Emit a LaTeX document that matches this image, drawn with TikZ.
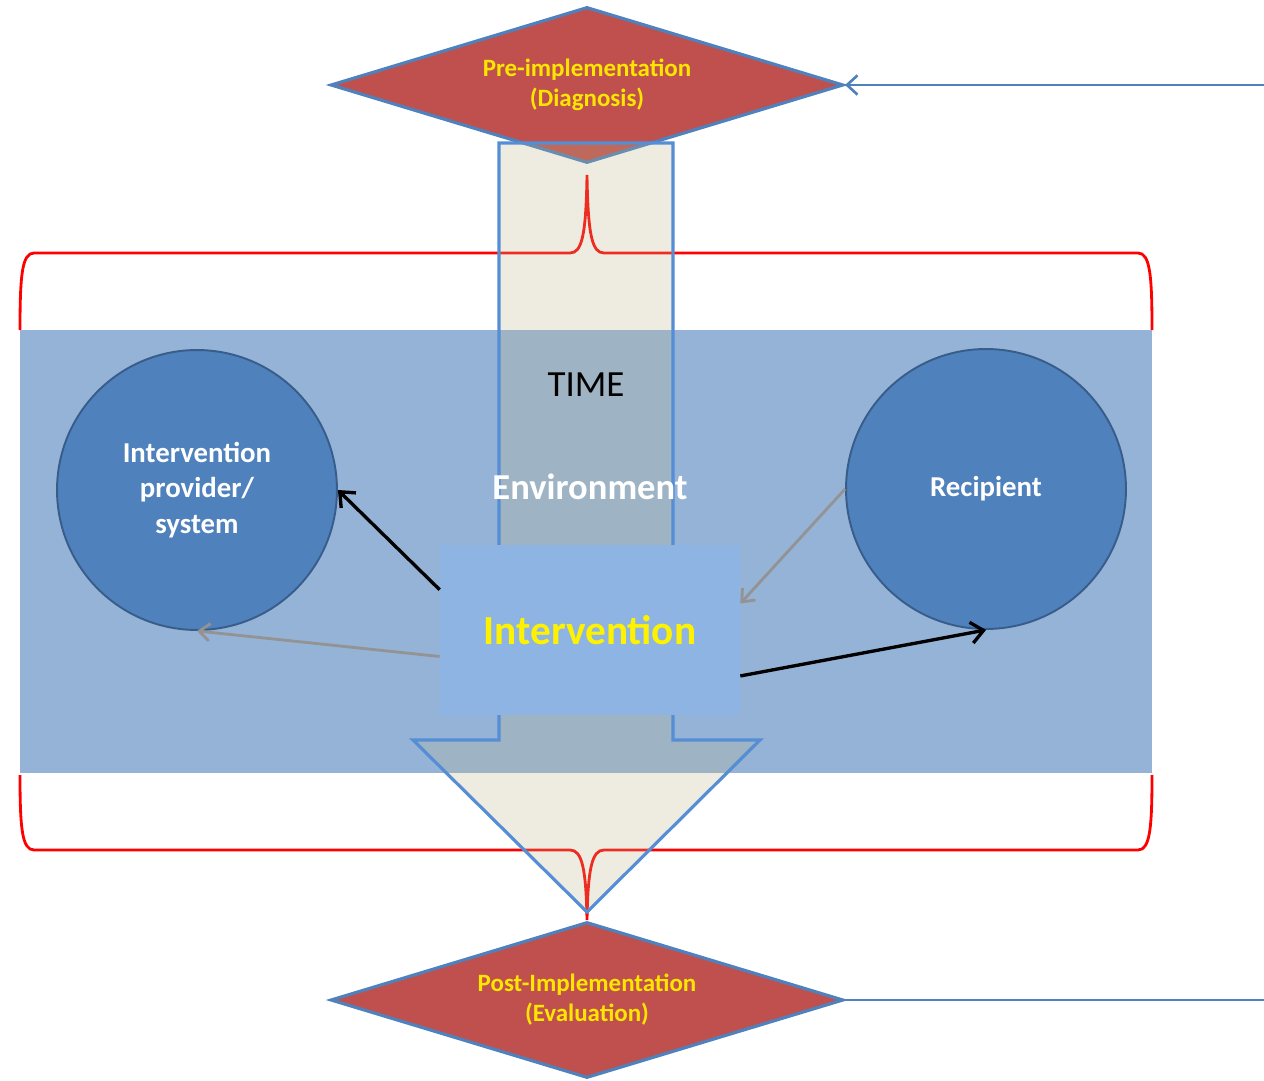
\documentclass[tikz,border=0pt]{standalone}
\usepackage{fontspec}
\setmainfont{Carlito}
\usetikzlibrary{shapes.geometric,arrows.meta}
\definecolor{phasered}{HTML}{C0504D}
\definecolor{edgeblue}{HTML}{4F81BD}
\definecolor{envblue}{HTML}{95B3D7}
\definecolor{boxblue}{HTML}{8DB4E2}
\definecolor{circedge}{HTML}{385D8A}
\definecolor{timefill}{RGB}{188,180,136}
\definecolor{timeedge}{HTML}{558ED5}
\definecolor{phaseyellow}{HTML}{FFE600}
\begin{document}
\begin{tikzpicture}[x=0.02cm, y=-0.02cm,
  phase/.style={diamond, aspect=3.3, draw=edgeblue, line width=1.8pt, fill=phasered,
    minimum width=10.26cm, minimum height=3.12cm, inner sep=0pt, align=center,
    text=phaseyellow, font=\fontsize{14.2}{17}\selectfont\bfseries},
  actor/.style={circle, draw=circedge, line width=1.1pt, fill=edgeblue,
    minimum size=5.6cm, align=center, text=white,
    font=\fontsize{16.4}{20}\selectfont\bfseries},
  brace/.style={red, line width=1.6pt},
  link/.style={line width=1.9pt, -{Straight Barb[length=7pt,width=12pt]}},
  feedback/.style={gray!85, line width=1.6pt, -{Straight Barb[length=6pt,width=10pt]}},
  loopline/.style={edgeblue, line width=1.5pt}]

\useasboundingbox (0,0) rectangle (1264,1081);

% phases
\node[phase] (pre) at (587,85) {Pre-implementation\\(Diagnosis)};
\node[phase] (post) at (587,1000) {Post-Implementation\\(Evaluation)};

\coordinate (preend) at (1264,85);
\coordinate (postend) at (1264,1000);
\draw[loopline, {Straight Barb[length=6pt,width=11pt]}-] (pre.east) -- (preend);
\draw[loopline] (post.east) -- (postend);

% braces
\draw[brace] (20,330) .. controls (20,275) and (22,253) .. (34,253) -- (570,253)
  .. controls (582,253) and (586,235) .. (587,175)
  .. controls (588,235) and (592,253) .. (604,253) -- (1138,253)
  .. controls (1150,253) and (1152,275) .. (1152,330);
\draw[brace] (20,775) .. controls (20,828) and (22,850) .. (34,850) -- (570,850)
  .. controls (582,850) and (586,868) .. (587,920)
  .. controls (588,868) and (592,850) .. (604,850) -- (1138,850)
  .. controls (1150,850) and (1152,828) .. (1152,775);

% environment band
\fill[envblue] (20,330) rectangle (1152,773);

% time arrow
\draw[timeedge, line width=1.8pt, fill=timefill, fill opacity=0.25]
  (499,143) -- (673,143) -- (673,740) -- (760,740) -- (587,912)
  -- (413,740) -- (499,740) -- cycle;

\node[font=\fontsize{21}{25}\selectfont] (time) at (586,385) {TIME};
\node[text=white, font=\fontsize{20.8}{25}\selectfont\bfseries] (env) at (590,487) {Environment};

\node[fill=boxblue, minimum width=6cm, minimum height=3.4cm, inner sep=0pt,
  text=yellow, font=\fontsize{23.5}{28}\selectfont\bfseries] (interv) at (590,630) {Intervention};

\node[actor] (provider) at (197,490) {Intervention\\provider/\\system};
\node[actor] (recip) at (986,489) {Recipient};

\draw[link] (interv.165) -- (provider.east);
\draw[feedback] (interv.190) -- (provider.south);
\draw[feedback] (recip.west) -- (interv.10);
\draw[link] (interv.343) -- (recip.south);

\end{tikzpicture}
\end{document}
